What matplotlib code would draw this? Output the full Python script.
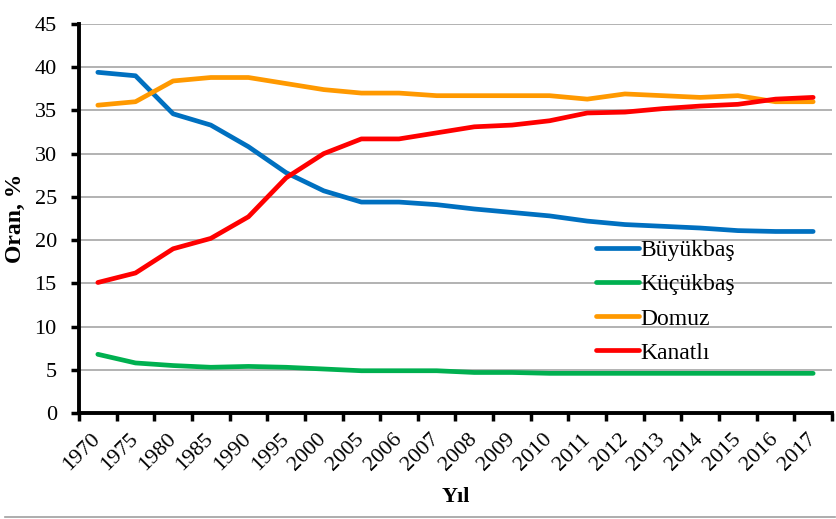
import matplotlib
matplotlib.use("Agg")
import matplotlib.pyplot as plt
from matplotlib.lines import Line2D

plt.rcParams['font.family'] = ['Liberation Serif', 'DejaVu Serif']

# categories (years on the x axis)
years = ["1970", "1975", "1980", "1985", "1990", "1995", "2000", "2005", "2006",
         "2007", "2008", "2009", "2010", "2011", "2012", "2013", "2014", "2015",
         "2016", "2017"]

# share (%)
buyukbas = [39.4, 39.0, 34.6, 33.3, 30.8, 27.8, 25.7, 24.4, 24.4, 24.1, 23.6,
            23.2, 22.8, 22.2, 21.8, 21.6, 21.4, 21.1, 21.0, 21.0]
kucukbas = [6.8, 5.8, 5.5, 5.3, 5.4, 5.3, 5.1, 4.9, 4.9, 4.9, 4.7, 4.7, 4.6,
            4.6, 4.6, 4.6, 4.6, 4.6, 4.6, 4.6]
domuz = [35.6, 36.0, 38.4, 38.8, 38.8, 38.1, 37.4, 37.0, 37.0, 36.7, 36.7,
         36.7, 36.7, 36.3, 36.9, 36.7, 36.5, 36.7, 36.0, 36.0]
kanatli = [15.1, 16.2, 19.0, 20.2, 22.7, 27.2, 30.0, 31.7, 31.7, 32.4, 33.1,
           33.3, 33.8, 34.7, 34.8, 35.2, 35.5, 35.7, 36.3, 36.5]

series = [("Büyükbaş", buyukbas, "#0070C0"),
          ("Küçükbaş", kucukbas, "#00B050"),
          ("Domuz", domuz, "#FF9900"),
          ("Kanatlı", kanatli, "#FF0000")]

fig = plt.figure(figsize=(8.37, 5.19), dpi=100)
ax = fig.add_axes([0.0944, 0.204, 0.8996, 0.750])

x = list(range(len(years)))
for name, vals, col in series:
    ax.plot(x, vals, color=col, lw=3.4, label=name, solid_capstyle='round',
            solid_joinstyle='round', zorder=3)

ax.set_xlim(-0.5, len(years) - 0.5)
ax.set_ylim(0, 45)
ax.set_yticks(range(0, 46, 5))
ax.yaxis.grid(True, color="#A6A6A6", lw=1.2, zorder=0)
ax.set_axisbelow(True)

# x ticks between categories, labels at category centres
ax.set_xticks([i - 0.5 for i in range(len(years) + 1)])
ax.set_xticklabels([])
ax.set_xticks(x, minor=True)
ax.tick_params(axis='x', which='minor', length=0, pad=17, labelsize=16)
ax.set_xticklabels(years, minor=True, rotation=45, ha='right', va='center',
                   rotation_mode='anchor')
ax.tick_params(axis='x', which='major', length=6, width=2.5, direction='out')
ax.tick_params(axis='y', length=6, width=2.5, direction='out', labelsize=16, pad=10)

for s in ["top", "right"]:
    ax.spines[s].set_visible(False)
for s in ["left", "bottom"]:
    ax.spines[s].set_linewidth(2.8)
    ax.spines[s].set_color("black")

ax.set_ylabel("Oran, %", fontsize=17, fontweight='bold', labelpad=6)
ax.set_xlabel("Yıl", fontsize=16, fontweight='bold', labelpad=8.5)

ax.legend(loc='upper left', bbox_to_anchor=(0.686, 0.445), frameon=False,
          fontsize=17, handlelength=1.85, handletextpad=0.05, labelspacing=0.53,
          borderpad=0, borderaxespad=0)

# thin rule under the whole chart
fig.add_artist(Line2D([0.006, 0.998], [0.004, 0.004], color="#A0A0A0", lw=1.2))

fig.savefig("out.png", dpi=100)
